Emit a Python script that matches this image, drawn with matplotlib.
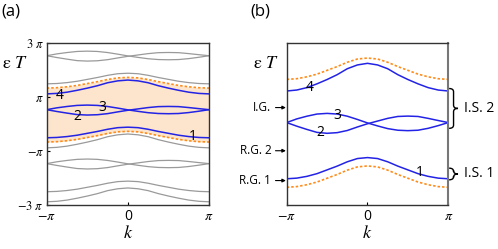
import matplotlib
matplotlib.use("Agg")
import matplotlib.pyplot as plt
from matplotlib.path import Path
from matplotlib.patches import PathPatch
import numpy as np

# valores em unidades de pi
k = [-1, -0.875, -0.75, -0.625, -0.5, -0.375, -0.25, -0.125, 0,
     0.125, 0.25, 0.375, 0.5, 0.625, 0.75, 0.875, 1]
banda1 = [-0.52, -0.508, -0.475, -0.425, -0.355, -0.285, -0.205, -0.145, -0.127,
          -0.145, -0.205, -0.285, -0.355, -0.425, -0.475, -0.508, -0.52]
banda2 = [0.522, 0.455, 0.395, 0.34, 0.323, 0.335, 0.375, 0.44, 0.50,
          0.55, 0.60, 0.635, 0.642, 0.635, 0.60, 0.56, 0.522]
banda3 = [0.522, 0.59, 0.64, 0.68, 0.692, 0.68, 0.64, 0.58, 0.515,
          0.46, 0.41, 0.38, 0.372, 0.38, 0.415, 0.465, 0.522]
banda4 = [1.107, 1.125, 1.17, 1.24, 1.32, 1.41, 1.52, 1.59, 1.62,
          1.59, 1.52, 1.41, 1.32, 1.24, 1.17, 1.125, 1.107]
borda = [1.322, 1.335, 1.37, 1.42, 1.49, 1.56, 1.64, 1.70, 1.718,
         1.70, 1.64, 1.56, 1.49, 1.42, 1.37, 1.335, 1.322]

bandas = [banda1, banda2, banda3, banda4]
rotulos_bandas = ['1', '2', '3', '4']
pos_rot_a = [(0.80, -0.455), (-0.62, 0.265), (-0.32, 0.615), (-0.845, 1.036)]
pos_rot_b = [(0.65, -0.40), (-0.59, 0.34), (-0.37, 0.66), (-0.72, 1.18)]

setas_nomes = ['I.G.', 'R.G. 2', 'R.G. 1']
setas_y = [0.80, 0.0, -0.553]
chaves_nomes = ['I.S. 2', 'I.S. 1']
chaves_y = [(1.153, 0.415), (-0.323, -0.539)]

azul = '#2323e6'
laranja = '#ff8c1a'
cinza = '#9a9a9a'
fonte = 'Open Sans'

plt.rcParams['mathtext.fontset'] = 'stix'
plt.rcParams['font.family'] = fonte

fig = plt.figure(figsize=(4.98, 2.49), dpi=100)
axA = fig.add_axes([0.0938, 0.178, 0.326, 0.65])
axB = fig.add_axes([0.5757, 0.178, 0.3245, 0.65])

kk = np.array(k)
tracejado = (0, (1.5, 1.2))

# Painel (a)
axA.fill_between(kk, np.array(borda) - 2, borda, color='#fde4cc', lw=0)
for b in bandas:
    for s in (-4, -2, 2, 4):
        axA.plot(kk, np.array(b) + s, color=cinza, lw=0.9)
for b in bandas:
    axA.plot(kk, b, color=azul, lw=1.1)
axA.plot(kk, borda, color=laranja, lw=1.2, ls=tracejado)
axA.plot(kk, np.array(borda) - 2, color=laranja, lw=1.2, ls=tracejado)
for r, (x, y) in zip(rotulos_bandas, pos_rot_a):
    axA.text(x, y, r, fontsize=10, ha='center', va='center')
axA.set_xlim(-1, 1)
axA.set_ylim(-3, 3)
axA.set_yticks([-3, -1, 1, 3])
axA.set_yticklabels([r'$-3\ \pi$', r'$-\pi$', r'$\pi$', r'$3\ \pi$'])

# Painel (b)
for b in bandas:
    axB.plot(kk, b, color=azul, lw=1.1)
axB.plot(kk, borda, color=laranja, lw=1.2, ls=tracejado)
axB.plot(kk, np.array(borda) - 2, color=laranja, lw=1.2, ls=tracejado)
for r, (x, y) in zip(rotulos_bandas, pos_rot_b):
    axB.text(x, y, r, fontsize=10, ha='center', va='center')
axB.set_xlim(-1, 1)
axB.set_ylim(-1, 2)
axB.set_yticks([])

for nome, y in zip(setas_nomes, setas_y):
    axB.annotate(nome, xy=(-0.005, y), xycoords=('axes fraction', 'data'),
                 xytext=(-0.095, y), textcoords=('axes fraction', 'data'),
                 ha='right', va='center', fontsize=8.5, annotation_clip=False,
                 arrowprops=dict(arrowstyle='-|>', color='k', lw=0.8,
                                 mutation_scale=5, shrinkA=1, shrinkB=0))

# chaves do lado direito
trans = matplotlib.transforms.blended_transform_factory(axB.transAxes, axB.transData)
for nome, (y1, y2) in zip(chaves_nomes, chaves_y):
    x0 = 1.005
    w = 0.055
    ym = (y1 + y2) / 2
    d = 0.06
    verts = [(x0, y1), (x0 + w / 2, y1), (x0 + w / 2, y1 - d),
             (x0 + w / 2, ym + d),
             (x0 + w / 2, ym), (x0 + w, ym),
             (x0 + w / 2, ym), (x0 + w / 2, ym - d),
             (x0 + w / 2, y2 + d),
             (x0 + w / 2, y2), (x0, y2)]
    codes = [Path.MOVETO, Path.CURVE3, Path.CURVE3, Path.LINETO,
             Path.CURVE3, Path.CURVE3, Path.CURVE3, Path.CURVE3,
             Path.LINETO, Path.CURVE3, Path.CURVE3]
    axB.add_patch(PathPatch(Path(verts, codes), transform=trans, fc='none',
                            ec='k', lw=1.0, clip_on=False))
    axB.text(1.10, ym, nome, transform=trans, fontsize=10,
             ha='left', va='center')

for ax in (axA, axB):
    ax.set_xticks([-1, 0, 1])
    ax.set_xticklabels([r'$-\pi$', '0', r'$\pi$'])
    ax.tick_params(direction='in', length=2, width=0.8, labelsize=10, pad=2)
    ax.tick_params(axis='x', pad=3)
    ax.set_xlabel(r'$k$', fontsize=13, labelpad=0)
    for sp in ax.spines.values():
        sp.set_color('#333333')
        sp.set_linewidth(1.0)
axA.tick_params(axis='y', labelsize=9)
axB.spines['right'].set_color('#777777')
axB.spines['right'].set_linewidth(1.5)

fig.text(0.004, 0.748, r'$\mathrm{\varepsilon}\ T$', fontsize=13, ha='left', va='center')
fig.text(0.508, 0.748, r'$\mathrm{\varepsilon}\ T$', fontsize=13, ha='left', va='center')
fig.text(0.002, 0.952, '(a)', fontsize=12, ha='left', va='center')
fig.text(0.502, 0.952, '(b)', fontsize=12, ha='left', va='center')

fig.savefig('out.png', dpi=100)
